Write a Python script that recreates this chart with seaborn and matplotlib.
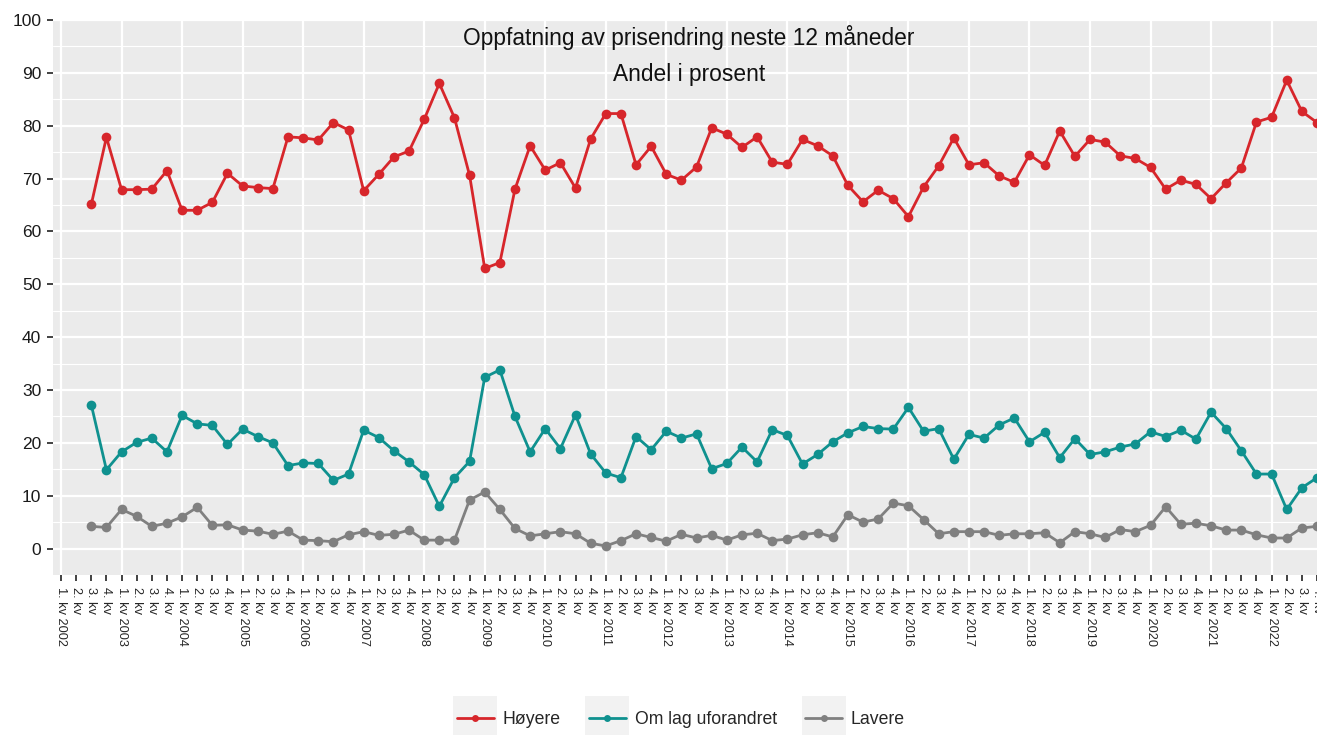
import pandas as pd
import matplotlib
matplotlib.use("Agg")
import matplotlib.pyplot as plt
import seaborn as sns
from matplotlib.lines import Line2D
from matplotlib.patches import Rectangle

# --- data: quarterly shares (%), 3. kv 2002 .. 4. kv 2022 ---
YEARS = list(range(2002, 2023))
QUARTERS = [1, 2, 3, 4]
FIRST_QUARTER = 2  # data starts at 3. kv 2002

hoyere = [65.1, 77.8, 67.9, 67.9, 68.0, 71.5, 64.0, 64.0, 65.5, 71.0,
          68.6, 68.3, 68.1, 77.9, 77.7, 77.3, 80.6, 79.2, 67.7, 70.8,
          74.1, 75.2, 81.2, 88.0, 81.5, 70.6, 53.0, 54.1, 68.0, 76.2,
          71.6, 73.0, 68.2, 77.5, 82.3, 82.3, 72.6, 76.1, 70.8, 69.7,
          72.2, 79.6, 78.4, 75.9, 77.9, 73.1, 72.7, 77.4, 76.2, 74.3,
          68.7, 65.6, 67.8, 66.2, 62.8, 68.4, 72.4, 77.7, 72.6, 73.0,
          70.5, 69.3, 74.5, 72.5, 79.0, 74.2, 77.4, 76.9, 74.3, 73.8,
          72.1, 68.0, 69.7, 68.9, 66.2, 69.2, 72.0, 80.7, 81.6, 88.6,
          82.7, 80.6]
uforandret = [27.2, 14.9, 18.3, 20.1, 20.9, 18.3, 25.2, 23.6, 23.3, 19.7,
              22.6, 21.2, 20.0, 15.7, 16.2, 16.1, 12.9, 14.1, 22.4, 21.0,
              18.5, 16.4, 14.0, 8.0, 13.4, 16.5, 32.4, 33.8, 25.0, 18.3,
              22.7, 18.9, 25.3, 17.9, 14.3, 13.4, 21.2, 18.7, 22.2, 20.9,
              21.7, 15.1, 16.1, 19.2, 16.4, 22.5, 21.4, 16.0, 17.8, 20.2,
              21.9, 23.1, 22.7, 22.6, 26.7, 22.2, 22.7, 16.9, 21.6, 20.9,
              23.4, 24.7, 20.2, 22.0, 17.2, 20.8, 17.8, 18.3, 19.2, 19.8,
              22.1, 21.2, 22.4, 20.7, 25.8, 22.7, 18.5, 14.1, 14.1, 7.4,
              11.5, 13.4]
lavere = [4.2, 4.0, 7.4, 6.1, 4.2, 4.8, 6.0, 7.8, 4.4, 4.5,
          3.5, 3.3, 2.7, 3.3, 1.6, 1.5, 1.3, 2.6, 3.2, 2.5,
          2.7, 3.5, 1.6, 1.6, 1.6, 9.2, 10.7, 7.4, 3.8, 2.4,
          2.8, 3.2, 2.8, 1.0, 0.5, 1.5, 2.8, 2.1, 1.4, 2.7,
          2.0, 2.5, 1.6, 2.6, 2.9, 1.5, 1.8, 2.6, 3.0, 2.2,
          6.4, 5.0, 5.6, 8.6, 8.1, 5.5, 2.8, 3.2, 3.2, 3.2,
          2.5, 2.8, 2.8, 3.0, 1.1, 3.2, 2.8, 2.1, 3.6, 3.2,
          4.4, 7.9, 4.6, 4.8, 4.3, 3.5, 3.5, 2.6, 2.0, 2.0,
          3.9, 4.2]

SERIES = ["Høyere", "Om lag uforandret", "Lavere"]
COLORS = ["#D7262B", "#0F918F", "#808080"]
TITLE = "Oppfatning av prisendring neste 12 måneder"
SUBTITLE = "Andel i prosent"

quarter_labels = [f"{q}. kv {y}" if q == 1 else f"{q}. kv" for y in YEARS for q in QUARTERS]

# long-form table for seaborn
rows = []
for name, values in zip(SERIES, [hoyere, uforandret, lavere]):
    for i, v in enumerate(values):
        rows.append({"pos": FIRST_QUARTER + i, "serie": name, "andel": v})
df = pd.DataFrame(rows)

sns.set_theme(style="darkgrid", rc={
    "axes.facecolor": "#EBEBEB",
    "grid.color": "white",
    "xtick.bottom": True,
    "ytick.left": True,
})
plt.rcParams["font.family"] = ["Liberation Sans", "DejaVu Sans"]

fig = plt.figure(figsize=(13.17, 7.35), dpi=100)
ax = fig.add_axes([53 / 1317, 160 / 735, 1 - 53 / 1317, 555 / 735])

sns.lineplot(data=df, x="pos", y="andel", hue="serie", hue_order=SERIES,
             palette=COLORS, marker="o", markersize=7, markeredgewidth=0,
             linewidth=2.0, legend=False, ax=ax)

# axes, ticks, grid (ggplot-like)
n = len(quarter_labels)
year_pos = [i for i in range(n) if i % 4 == 0]
other_pos = [i for i in range(n) if i % 4 != 0]
ax.set_xticks(year_pos, labels=[quarter_labels[i] for i in year_pos])
ax.set_xticks(other_pos, labels=[quarter_labels[i] for i in other_pos], minor=True)
ax.set_yticks(range(0, 101, 10))
ax.set_yticks(range(5, 100, 10), minor=True)
ax.set_xlim(-0.53, 83.0)
ax.set_ylim(-5, 100)
ax.set_xlabel("")
ax.set_ylabel("")

ax.grid(which="major", color="white", linewidth=1.6)
ax.grid(which="minor", axis="y", color="white", linewidth=0.8)
ax.grid(which="minor", axis="x", visible=False)
for s in ax.spines.values():
    s.set_visible(False)

ax.tick_params(axis="both", which="both", colors="#333333", length=4.5, width=1.3,
               direction="out", left=True, bottom=True)
ax.tick_params(axis="y", which="major", labelsize=12.5, pad=4, labelcolor="#1a1a1a")
ax.tick_params(axis="y", which="minor", length=0)
ax.tick_params(axis="x", which="both", labelsize=9.2, pad=4, labelcolor="#262626")
for lab in ax.get_xticklabels(which="both"):
    lab.set_rotation(-90)
    lab.set_ha("center")
    lab.set_va("top")

# title inside the panel
fig.text(0.523, 1 - 37 / 735, TITLE, ha="center", va="center", fontsize=16.4, color="#111111")
fig.text(0.523, 1 - 75 / 735, SUBTITLE, ha="center", va="center", fontsize=16.4, color="#111111")

# legend at the bottom with grey key boxes
handles = [Line2D([], [], color=c, marker="o", markersize=5, markeredgewidth=0, linewidth=2)
           for c in COLORS]
leg = fig.legend(handles, SERIES, loc="center", bbox_to_anchor=(0.517, 1 - 720 / 735),
                 ncol=3, frameon=False, fontsize=12.7, handlelength=2.1,
                 handletextpad=0.5, columnspacing=1.6)
fig.canvas.draw()
inv = fig.transFigure.inverted()
for h in leg.legend_handles:
    bb = h.get_window_extent(fig.canvas.get_renderer())
    cx, cy = (bb.x0 + bb.x1) / 2, (bb.y0 + bb.y1) / 2
    (x0, y0), (x1, y1) = inv.transform([(cx - 22, cy - 22), (cx + 22, cy + 22)])
    fig.patches.append(Rectangle((x0, y0), x1 - x0, y1 - y0, transform=fig.transFigure,
                                 facecolor="#F2F2F2", edgecolor="none", zorder=0))

fig.savefig("out.png", dpi=100)
